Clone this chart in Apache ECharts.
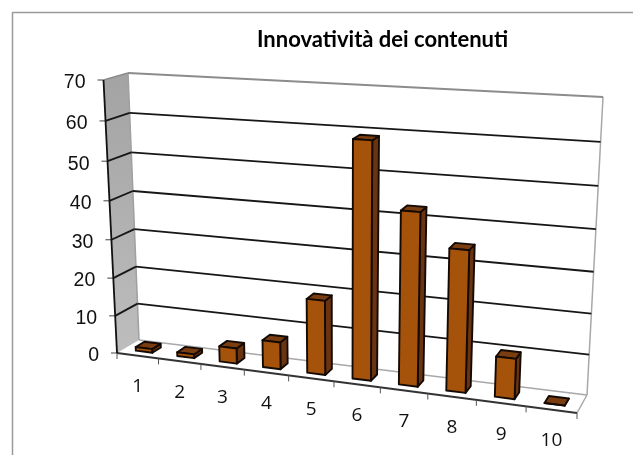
<!DOCTYPE html>
<html><head><meta charset="utf-8">
<style>html,body{margin:0;padding:0;background:#fff}#c{width:633px;height:455px}</style>
<script src="https://cdn.jsdelivr.net/npm/echarts@6/dist/echarts.min.js"></script>
</head><body><div id="c"></div>
<script>
const titleText = "Innovatività dei contenuti";
const categories = ["1","2","3","4","5","6","7","8","9","10"];
const counts = [1,1,4,7,19,59,43,35,10,0];
const yTicks = [0,10,20,30,40,50,60,70];

// Perspective view: corners of the chart box on screen
const backQuad  = {bl:[139,340], br:[587,395], tr:[603,97],  tl:[128,73]};
const frontQuad = {bl:[117,353], br:[577,413], tr:[592,109], tl:[103.5,80]};
const barDepth = [0.3,0.7], barWidth = 0.4;

function homography(q){
  const [x0,y0]=q.bl,[x1,y1]=q.br,[x2,y2]=q.tr,[x3,y3]=q.tl;
  const dx1=x1-x2,dx2=x3-x2,sx=x0-x1+x2-x3,dy1=y1-y2,dy2=y3-y2,sy=y0-y1+y2-y3;
  const d=dx1*dy2-dx2*dy1, g=(sx*dy2-dx2*sy)/d, h=(dx1*sy-sx*dy1)/d;
  const a=x1-x0+g*x1,b=x3-x0+h*x3,e=y1-y0+g*y1,f=y3-y0+h*y3;
  return (u,v)=>{const w=g*u+h*v+1;return [(a*u+b*v+x0)/w,(e*u+f*v+y0)/w];};
}
const hBack=homography(backQuad), hFront=homography(frontQuad);
function project(u,v,z){ // z: 0 = back wall, 1 = front plane
  const b=hBack(u,v), f=hFront(u,v);
  return [b[0]+(f[0]-b[0])*z, b[1]+(f[1]-b[1])*z];
}
function unit(cs,pt){return [(pt[0]-cs.x)/cs.width,(cs.y+cs.height-pt[1])/cs.height];}

const INK='#140a04', FONT='"Liberation Sans",Arial,sans-serif', XFONT='"Open Sans",sans-serif';
const poly=(points,style,z2)=>({type:'polygon',z2:z2||0,shape:{points},style});
const line=(a,b,stroke,w)=>({type:'line',shape:{x1:a[0],y1:a[1],x2:b[0],y2:b[1]},style:{stroke,lineWidth:w,fill:null}});

const chart=echarts.init(document.getElementById('c'));
chart.setOption({
  animation:false,
  backgroundColor:'#fff',
  title:{text:titleText,left:252,top:24,textStyle:{fontFamily:'Lato,sans-serif',fontWeight:'bold',fontSize:22,color:'#000'}},
  grid:{left:100,right:33,top:70,bottom:40},
  xAxis:{type:'category',data:categories,show:false},
  yAxis:{type:'value',min:0,max:70,interval:10,show:false},
  graphic:[
    {type:'line',silent:true,shape:{x1:13,y1:12.5,x2:633,y2:12.5},style:{stroke:'#9a9a9a',lineWidth:1.5}},
    {type:'line',silent:true,shape:{x1:12.5,y1:12,x2:12.5,y2:455},style:{stroke:'#9a9a9a',lineWidth:1.5}}
  ],
  series:[
    { // box walls, gridlines and value labels
      type:'custom',clip:false,silent:true,z:1,
      data:yTicks.map(t=>[0,t]),
      encode:{x:0,y:1},
      renderItem(params,api){
        const cs=params.coordSys, v=unit(cs,api.coord([0,api.value(1)]))[1], t=api.value(1), ch=[];
        if(params.dataIndex===0){
          ch.push(poly([project(0,0,1),project(0,1,1),project(0,1,0),project(0,0,0)],
            {fill:new echarts.graphic.LinearGradient(0,0,0,1,[{offset:0,color:'#a3a3a3'},{offset:1,color:'#bdbdbd'}])}));
          ch.push(line(project(0,0,0),project(0,1,0),'#a0a0a0',1.5));
          ch.push(line(project(0,0,0),project(1,0,0),'#a8a8a8',1.5));
          ch.push(line(project(1,0,0),project(1,1,0),'#a8a8a8',1.5));
          ch.push(line(project(1,0,0),project(1,0,1),'#a8a8a8',1.5));
        }
        const top=t===yTicks[yTicks.length-1];
        if(t>0){
          const col=top?'#8c8c8c':'#161616';
          ch.push(line(project(0,v,1),project(0,v,0),col,1.8));
          ch.push(line(project(0,v,0),project(1,v,0),col,1.8));
        }
        const a=project(0,v,1);
        ch.push(line(a,[a[0]-6,a[1]],'#444',1));
        ch.push({type:'text',style:{text:String(t),x:a[0]-18,y:a[1]+3,align:'right',verticalAlign:'middle',font:'19.5px '+FONT,fill:'#111'}});
        return {type:'group',children:ch};
      }
    },
    { // floor edges, category ticks and labels
      type:'custom',clip:false,silent:true,z:2,
      data:categories.map((c,i)=>[i,0]),
      encode:{x:0,y:1},
      renderItem(params,api){
        const cs=params.coordSys,i=api.value(0),band=api.size([1,0])[0];
        const c=api.coord([i,0]), uc=unit(cs,c)[0], du=band/cs.width, ch=[];
        const r=project(uc+du/2,0,1);
        ch.push(line(r,[r[0],r[1]+6],'#555',1));
        if(i===0){
          const l=project(0,0,1);
          ch.push(line(l,[l[0],l[1]+6],'#555',1));
          ch.push(line(l,project(1,0,1),'#333',1.8));
          ch.push(line(project(0,0,1),project(0,1,1),'#111',1.8));
        }
        const p=project(uc,0,1);
        ch.push({type:'text',style:{text:categories[i],x:p[0],y:p[1]+31,align:'center',verticalAlign:'middle',font:'19px '+XFONT,fill:'#111'}});
        return {type:'group',children:ch};
      }
    },
    { // bars
      type:'custom',clip:false,z:3,
      data:counts.map((v,i)=>[i,v]),
      encode:{x:0,y:1},
      renderItem(params,api){
        const cs=params.coordSys,i=api.value(0),val=api.value(1);
        const base=unit(cs,api.coord([i,0])), topPt=unit(cs,api.coord([i,val]));
        const hw=barWidth/2*api.size([1,0])[0]/cs.width;
        const u0=base[0]-hw,u1=base[0]+hw,v0=base[1],v1=topPt[1],zb=barDepth[0],zf=barDepth[1];
        const s=(fill)=>({fill,stroke:INK,lineWidth:1.9,lineJoin:'round'});
        return {type:'group',children:[
          poly([project(u1,v0,zf),project(u1,v1,zf),project(u1,v1,zb),project(u1,v0,zb)],s('#6b3410')),
          poly([project(u0,v1,zf),project(u1,v1,zf),project(u1,v1,zb),project(u0,v1,zb)],s('#7a3d10')),
          poly([project(u0,v0,zf),project(u1,v0,zf),project(u1,v1,zf),project(u0,v1,zf)],s('#a5520a'))
        ]};
      }
    }
  ]
});
</script></body></html>
